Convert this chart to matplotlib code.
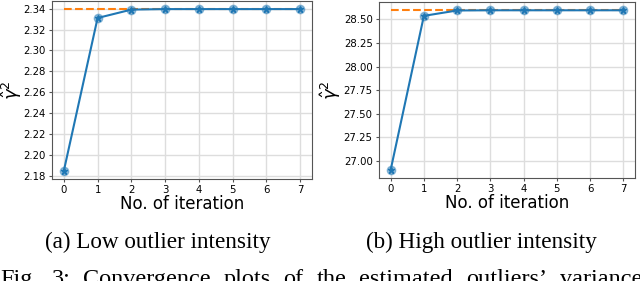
import numpy as np
import matplotlib.pyplot as plt

# Data
iterations = [0, 1, 2, 3, 4, 5, 6, 7]
low_est = [2.185, 2.331, 2.339, 2.3395, 2.3395, 2.3395, 2.3395, 2.3395]
low_true = 2.3395
high_est = [26.905, 28.538, 28.595, 28.597, 28.597, 28.597, 28.597, 28.597]
high_true = 28.60

low_ticks = [2.18, 2.20, 2.22, 2.24, 2.26, 2.28, 2.30, 2.32, 2.34]
high_ticks = [27.00, 27.25, 27.50, 27.75, 28.00, 28.25, 28.50]

captions = ['(a) Low outlier intensity', '(b) High outlier intensity']
fig_caption = 'Fig. 3: Convergence plots of the estimated outliers\u2019 variance'

fig = plt.figure(figsize=(6.4, 2.81), dpi=100)
ax1 = fig.add_axes([52 / 640, 1 - 179 / 281, 260 / 640, 178 / 281])
ax2 = fig.add_axes([379 / 640, 1 - 178 / 281, 256 / 640, 176 / 281])


def draw(ax, est, true_val, ticks, fmt):
    ax.plot(iterations, [true_val] * len(iterations), '--', color='#ff7f0e', lw=1.5, zorder=2)
    ax.plot(iterations, est, '-', color='#1f77b4', lw=1.5, marker='*', ms=5, zorder=3)
    ax.plot(iterations, est, 'o', color='#1f77b4', alpha=0.45, ms=6, zorder=3)
    ax.set_yticks(ticks)
    ax.set_yticklabels([fmt.format(t) for t in ticks])
    ax.set_xticks(iterations)
    ax.grid(True, color='#dddddd', lw=1)
    ax.set_axisbelow(True)
    ax.tick_params(labelsize=7.3, length=2.5, pad=2, color='#555555')
    for s in ax.spines.values():
        s.set_color('#555555')
    ax.set_xlabel('No. of iteration', fontsize=12, labelpad=0)
    ax.set_ylabel(r'$\hat{\gamma}^2$', fontsize=13)


draw(ax1, low_est, low_true, low_ticks, '{:.2f}')
draw(ax2, high_est, high_true, high_ticks, '{:.2f}')
ax1.yaxis.set_label_coords(-0.108, 0.5)
ax2.yaxis.set_label_coords(-0.14, 0.5)

cap_size = 16.7
fig.text(158 / 640, 1 - 248 / 281, captions[0], family='Liberation Serif', fontsize=cap_size,
         ha='center', va='baseline')
fig.text(481 / 640, 1 - 248 / 281, captions[1], family='Liberation Serif', fontsize=cap_size,
         ha='center', va='baseline')

# justified caption line (cut off at the bottom edge like in the paper)
renderer = fig.canvas.get_renderer()
words = fig_caption.split(' ')
base_y = 1 - 285 / 281
line_end = 642
txts = [fig.text(0, base_y, w, family='Liberation Serif', fontsize=17.5,
                 ha='left', va='baseline') for w in words]
widths = [t.get_window_extent(renderer).width for t in txts]
gap = (line_end - sum(widths)) / (len(words) - 1)
x = 0.0
for t, w in zip(txts, widths):
    t.set_x(x / 640)
    x += w + gap

fig.savefig('out.png', dpi=100)
